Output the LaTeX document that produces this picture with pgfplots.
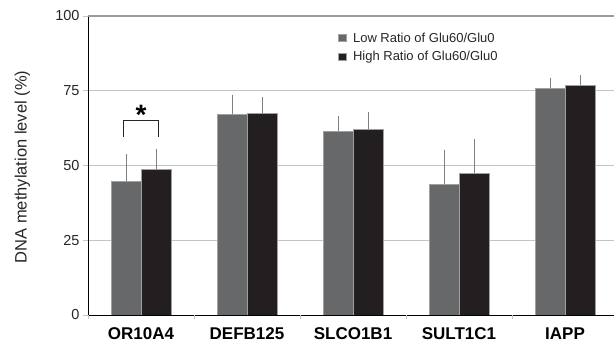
\documentclass[border=0pt]{standalone}
\usepackage{pgfplots}
\pgfplotsset{compat=1.18}
\usepackage{fontspec}
\setmainfont{Liberation Sans}
\definecolor{lowc}{HTML}{67686A}
\definecolor{highc}{HTML}{231F20}
\definecolor{gridc}{HTML}{C4C4C4}
\definecolor{topc}{HTML}{9B9B9B}
\definecolor{errc}{HTML}{808080}
\definecolor{edgec}{HTML}{A0A0A0}
\begin{document}
\begin{tikzpicture}
\useasboundingbox (0,0) rectangle (614bp,346bp);
\begin{axis}[
  at={(88bp,31bp)}, anchor=south west,
  scale only axis, width=526bp, height=299bp,
  xmin=-0.5, xmax=4.462, ymin=0, ymax=100,
  axis x line*=bottom, axis y line*=left,
  axis line style={-, black, line width=0.8bp},
  ybar, bar width=30bp,
  xtick={0,1,2,3,4},
  xticklabels={OR10A4,DEFB125,SLCO1B1,SULT1C1,IAPP},
  x tick label style={font=\fontsize{17bp}{20bp}\selectfont\bfseries, yshift=-4bp},
  xtick style={draw=none},
  extra x ticks={-0.5,0.5,1.5,2.5,3.5},
  extra x tick labels={},
  extra x tick style={xtick style={draw=gridc, line width=0.8bp}, major tick length=4bp, tick align=outside},
  ytick={0,25,50,75},
  extra y ticks={100},
  extra y tick style={grid style={draw=topc, line width=1.6bp}},
  ymajorgrids, grid style={draw=gridc, line width=0.8bp},
  ytick style={draw=gridc, line width=0.8bp},
  tick align=outside, major tick length=5bp,
  y tick label style={font=\fontsize{14.5bp}{17bp}\selectfont, text=black!85},
  /pgf/number format/assume math mode=true,
  ylabel={DNA methylation level (\%)},
  ylabel style={at={(axis description cs:-0.125,0.495)}, anchor=center, font=\fontsize{16.5bp}{19bp}\selectfont, text=black!85},
  legend style={draw=none, fill=none, at={(axis description cs:0.475,0.945)}, anchor=north west,
    font=\fontsize{13bp}{15bp}\selectfont, text=black!85, row sep=8bp, inner sep=0pt,
    nodes={inner sep=0pt},
    /tikz/every odd column/.append style={column sep=7bp}},
  legend image code/.code={\fill[#1] (0bp,-3.5bp) rectangle (7.5bp,4bp);},
  legend cell align=left,
  error bars/y dir=plus, error bars/y explicit,
  error bars/error bar style={draw=errc, line width=0.8bp},
  error bars/error mark options={draw=errc, line width=0.8bp, mark size=1.8bp},
]
\addplot[fill=lowc, draw=edgec, line width=0.5bp, bar shift=-15bp] coordinates {
  (0,44.8) +- (0,8.4)
  (1,67.1) +- (0,6.0)
  (2,61.4) +- (0,4.4)
  (3,43.7) +- (0,11.0)
  (4,75.8) +- (0,2.7)
};
\addplot[fill=highc, draw=edgec, line width=0.5bp, bar shift=15bp] coordinates {
  (0,48.7) +- (0,6.3)
  (1,67.4) +- (0,4.8)
  (2,62.2) +- (0,5.2)
  (3,47.4) +- (0,10.7)
  (4,76.9) +- (0,2.7)
};
\legend{Low Ratio of Glu60/Glu0, High Ratio of Glu60/Glu0}
\draw[line width=0.9bp, black!85] (axis cs:-0.165,59.6) -- (axis cs:-0.165,64.9) -- (axis cs:0.165,64.9) -- (axis cs:0.165,59.6);
\node[anchor=base, font=\fontsize{28bp}{30bp}\selectfont\bfseries, inner sep=0pt] at (axis cs:0,63.8) {*};
\end{axis}
\end{tikzpicture}
\end{document}
